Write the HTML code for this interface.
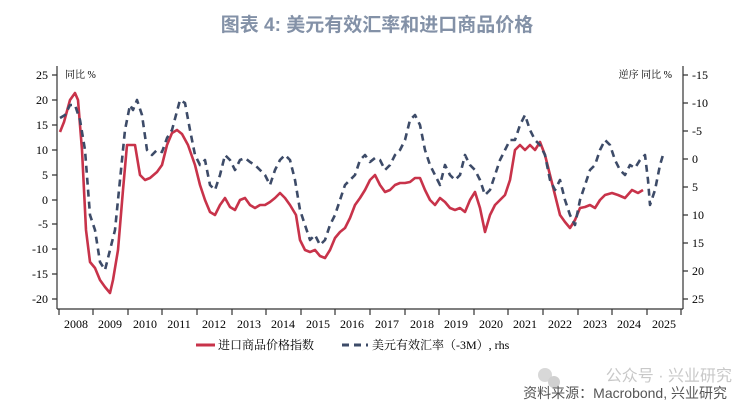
<!DOCTYPE html>
<html><head><meta charset="utf-8"><style>
body{margin:0;background:#fff;width:754px;height:412px;overflow:hidden}
text{font-family:"Liberation Serif","Noto Serif CJK SC",serif}
</style></head><body>
<svg width="754" height="412" xmlns="http://www.w3.org/2000/svg">
<text x="377" y="31" text-anchor="middle" font-size="19" font-weight="bold" fill="#8391a7" style="font-family:'Liberation Sans','Noto Sans CJK SC',sans-serif">图表 4:  美元有效汇率和进口商品价格</text>
<g stroke="#333" stroke-width="1.2" fill="none">
<line x1="57" y1="66" x2="57" y2="309"/>
<line x1="683" y1="66" x2="683" y2="309"/>
<line x1="57" y1="309" x2="683" y2="309"/>
<path d="M52 75h5M52 100h5M52 125h5M52 150h5M52 175h5M52 200h5M52 224h5M52 249h5M52 274h5M52 299h5"/>
<path d="M683 75h5M683 103h5M683 131h5M683 159h5M683 187h5M683 215h5M683 243h5M683 271h5M683 299h5"/>
<path d="M59 309v6M93 309v6M128 309v6M162 309v6M197 309v6M232 309v6M266 309v6M301 309v6M335 309v6M370 309v6M405 309v6M439 309v6M474 309v6M508 309v6M543 309v6M578 309v6M612 309v6M647 309v6M681 309v6"/>
</g>
<g font-size="12" fill="#000" text-anchor="end">
<text x="48" y="79">25</text><text x="48" y="104">20</text><text x="48" y="129">15</text><text x="48" y="154">10</text><text x="48" y="179">5</text><text x="48" y="204">0</text><text x="48" y="228">-5</text><text x="48" y="253">-10</text><text x="48" y="278">-15</text><text x="48" y="303">-20</text>
</g>
<g font-size="12" fill="#000">
<text x="692" y="79">-15</text><text x="692" y="107">-10</text><text x="692" y="135">-5</text><text x="692" y="163">0</text><text x="692" y="191">5</text><text x="692" y="219">10</text><text x="692" y="247">15</text><text x="692" y="275">20</text><text x="692" y="303">25</text>
</g>
<g font-size="12" fill="#000" text-anchor="middle">
<text x="76" y="328">2008</text><text x="110" y="328">2009</text><text x="145" y="328">2010</text><text x="179" y="328">2011</text><text x="214" y="328">2012</text><text x="249" y="328">2013</text><text x="283" y="328">2014</text><text x="318" y="328">2015</text><text x="352" y="328">2016</text><text x="387" y="328">2017</text><text x="422" y="328">2018</text><text x="456" y="328">2019</text><text x="491" y="328">2020</text><text x="525" y="328">2021</text><text x="560" y="328">2022</text><text x="595" y="328">2023</text><text x="629" y="328">2024</text><text x="664" y="328">2025</text>
</g>
<text x="65" y="78" font-size="10" fill="#000">同比 %</text>
<text x="672" y="78" font-size="10" fill="#000" text-anchor="end">逆序 同比 %</text>
<polyline fill="none" stroke="#c8334a" stroke-width="2.6" stroke-linejoin="round" points="60,132 64,122 70,100 75,93 78,100 82,150 86,230 90,262 95,268 100,280 105,287 110,293 113,280 118,250 123,190 127,145 135,145 140,175 145,180 150,178 157,172 162,165 167,145 172,133 177,130 182,134 188,145 195,165 200,185 205,200 210,212 215,215 220,205 225,198 230,207 235,210 240,200 245,198 250,205 255,208 260,205 265,205 270,202 275,198 280,193 285,198 290,205 296,215 300,240 305,250 310,252 315,250 320,256 325,258 330,250 335,238 340,232 345,228 350,218 355,205 360,198 365,190 370,180 375,175 380,185 385,192 390,190 395,185 400,183 405,183 410,182 415,178 420,178 425,190 430,200 435,205 440,198 445,202 450,208 455,210 460,208 465,212 470,200 475,192 480,208 485,232 490,215 495,205 500,200 505,195 510,180 515,150 520,145 525,150 530,145 535,150 540,142 545,155 550,175 555,195 560,215 565,222 570,228 575,220 580,208 585,207 590,205 595,208 600,200 605,195 612,193 618,195 625,198 632,190 638,193 643,190"/>
<polyline fill="none" stroke="#3d4b68" stroke-width="2.6" stroke-dasharray="7,5" stroke-linejoin="round" points="60,118 65,115 70,105 75,105 80,120 85,150 90,215 95,230 100,262 105,270 110,250 115,230 120,180 125,130 130,105 133,110 137,100 142,115 147,150 152,155 157,150 162,152 167,138 172,130 180,100 185,103 190,130 195,155 200,165 205,160 210,185 215,190 220,175 225,155 230,160 235,170 240,160 245,158 250,162 255,165 260,170 265,175 270,185 275,170 280,160 285,155 290,160 295,180 300,210 305,225 310,240 315,235 320,245 325,240 330,225 335,215 340,200 345,185 350,180 355,175 360,160 365,155 370,162 375,158 380,160 385,170 390,165 395,155 400,150 405,140 410,120 415,115 420,125 425,150 430,165 435,175 440,185 445,165 450,175 455,180 460,175 465,155 470,165 475,170 480,180 485,195 490,190 495,175 500,160 505,150 510,140 515,140 520,125 525,115 530,130 535,140 540,145 545,155 550,180 555,190 560,180 565,200 570,215 575,225 580,200 585,185 590,170 595,165 600,150 605,140 610,145 615,160 620,170 625,175 630,165 635,168 640,160 645,155 648,180 650,205 655,190 660,165 663,155"/>
<line x1="196" y1="345" x2="215" y2="345" stroke="#c8334a" stroke-width="3"/>
<text x="218" y="349" font-size="12" fill="#000">进口商品价格指数</text>
<line x1="342" y1="345" x2="368" y2="345" stroke="#3d4b68" stroke-width="3" stroke-dasharray="7,5"/>
<text x="372" y="349" font-size="12" fill="#000">美元有效汇率（-3M）, rhs</text>
<text x="732" y="381" font-size="16" fill="#c8c8c8" text-anchor="end" style="font-family:'Liberation Sans','Noto Sans CJK SC',sans-serif">公众号 · 兴业研究</text>
<circle cx="545" cy="375" r="7" fill="#d8d8d8"/><circle cx="554" cy="382" r="6" fill="#d0d0d0"/>
<text x="727" y="398" font-size="14" fill="#555" text-anchor="end" style="font-family:'Liberation Sans','Noto Sans CJK SC',sans-serif">资料来源：Macrobond, 兴业研究</text>
</svg>
</body></html>
